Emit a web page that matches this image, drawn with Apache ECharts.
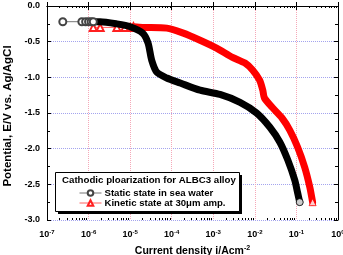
<!DOCTYPE html>
<html>
<head>
<meta charset="utf-8">
<script src="https://cdn.jsdelivr.net/npm/echarts@6/dist/echarts.min.js"></script>
<style>
  html, body { margin: 0; padding: 0; background: #fff; }
  #chart { width: 343px; height: 255px; }
</style>
</head>
<body>
<div id="chart"></div>
<script>
// tick labels
var xExps = ['-7', '-6', '-5', '-4', '-3', '-2', '-1', '0'];
var yTicks = ['0.0', '-0.5', '-1.0', '-1.5', '-2.0', '-2.5', '-3.0'];
// log minor tick multipliers inside each decade
var minorMult = [2, 3, 4, 5, 6, 7, 8, 9];

// static state: sparse open circles, dense band, end point
var staticMarks = [[2.4e-7, -0.22], [6.9e-7, -0.22], [8.5e-7, -0.22], [1.0e-6, -0.22], [1.15e-6, -0.22], [1.3e-6, -0.22]];
var staticBand = [
  [1.3e-6, -0.22], [1.9e-6, -0.22], [4.8e-6, -0.25], [1e-5, -0.29], [2e-5, -0.38],
  [2.7e-5, -0.52], [3.3e-5, -0.76], [4.4e-5, -0.93], [7.6e-5, -1.01], [1.6e-4, -1.08],
  [4.8e-4, -1.18], [1.45e-3, -1.24], [4.4e-3, -1.35], [1.1e-2, -1.50], [2.3e-2, -1.70],
  [4e-2, -1.91], [6.2e-2, -2.16], [9.1e-2, -2.44], [0.107, -2.62], [0.12, -2.75]
];
var staticEnd = [[0.12, -2.75]];

// kinetic state
var kineticMarks = [[1.3e-6, -0.30], [1.9e-6, -0.30], [4.8e-6, -0.30], [7.5e-6, -0.30], [1e-5, -0.30], [1.2e-5, -0.29]];
var kineticBand = [
  [1.2e-5, -0.29], [2e-5, -0.30], [7.6e-5, -0.31], [1.9e-4, -0.38], [4.8e-4, -0.48],
  [1.2e-3, -0.59], [2.9e-3, -0.72], [5.8e-3, -0.80], [8.9e-3, -0.90], [1.3e-2, -1.04],
  [1.55e-2, -1.18], [1.7e-2, -1.29], [2.6e-2, -1.42], [4.5e-2, -1.57], [6.9e-2, -1.74],
  [0.107, -1.98], [0.158, -2.26], [0.21, -2.54], [0.245, -2.75]
];
var kineticEnd = [[0.245, -2.75]];

var legendTitle = 'Cathodic ploarization for ALBC3 alloy';
var nameStatic = 'Static state in sea water';
var nameKinetic = 'Kinetic state at 30\u03bcm amp.';

var chart = echarts.init(document.getElementById('chart'));
var font = 'Liberation Sans, Arial, sans-serif';

var minorTicks = [];
for (var d = -7; d < 0; d++) {
  minorMult.forEach(function (m) { minorTicks.push(m * Math.pow(10, d)); });
}

function xLabel(v) {
  var e = Math.round(Math.log10(v));
  return '{b|10}{s|' + xExps[e + 7] + '}';
}

var baseX = {
  type: 'log', logBase: 10, min: 1e-7, max: 1,
  axisLine: { lineStyle: { color: '#000', width: 1 } },
  axisTick: { inside: true, length: 4, lineStyle: { color: '#000' } },
  splitLine: { show: false }
};
var minorX = {
  type: 'log', logBase: 10, min: 1e-7, max: 1,
  axisLine: { show: false },
  axisTick: { inside: true, length: 2, customValues: minorTicks, lineStyle: { color: '#000' } },
  axisLabel: { show: false },
  splitLine: { show: false }
};
var baseY = {
  type: 'value', min: -3, max: 0, interval: 0.5,
  axisLine: { show: true, lineStyle: { color: '#000', width: 1 } },
  axisTick: { show: true, inside: true, length: 4, lineStyle: { color: '#000' } },
  minorTick: { show: true, splitNumber: 2, length: 3, lineStyle: { color: '#000' } },
  splitLine: { show: false }
};

chart.setOption({
  animation: false,
  grid: { left: 47, right: 5, top: 6, bottom: 35, outerBoundsMode: 'none', containLabel: false },
  xAxis: [
    Object.assign({}, baseX, {
      position: 'bottom',
      splitLine: { show: true, lineStyle: { color: '#f5a8b8', type: [1, 1], width: 1 } },
      axisLabel: {
        margin: 9, formatter: xLabel,
        rich: {
          b: { fontFamily: font, fontWeight: 'bold', fontSize: 9, color: '#000' },
          s: { fontFamily: font, fontWeight: 'bold', fontSize: 6, color: '#000', padding: [0, 0, 6, 0] }
        }
      },
      name: '{n|Current density i/Acm}{s|-2}',
      nameLocation: 'middle', nameGap: 23,
      nameTextStyle: {
        rich: {
          n: { fontFamily: font, fontWeight: 'bold', fontSize: 10.5, color: '#000' },
          s: { fontFamily: font, fontWeight: 'bold', fontSize: 7, color: '#000', padding: [0, 0, 7, 0] }
        }
      }
    }),
    Object.assign({}, baseX, { position: 'top', axisLabel: { show: false } }),
    Object.assign({}, minorX, { position: 'bottom' }),
    Object.assign({}, minorX, { position: 'top' })
  ],
  yAxis: [
    Object.assign({}, baseY, {
      position: 'left',
      splitLine: { show: true, lineStyle: { color: '#a4a4ee', type: [1, 1], width: 1 } },
      axisLabel: {
        margin: 7, fontFamily: font, fontWeight: 'bold', fontSize: 9, color: '#000',
        formatter: function (v) { return yTicks[Math.round(-v / 0.5)]; }
      },
      name: 'Potential, E/V vs. Ag/AgCl',
      nameLocation: 'middle', nameGap: 21,
      nameTextStyle: { fontFamily: font, fontWeight: 'bold', fontSize: 11.5, color: '#000', padding: [0, 6, 0, 0] }
    }),
    Object.assign({}, baseY, { position: 'right', axisLabel: { show: false } })
  ],
  legend: {
    orient: 'vertical', left: 74, top: 183, z: 20,
    itemWidth: 22, itemHeight: 7, itemGap: 0,
    selectedMode: false,
    data: [
      { name: nameStatic, itemStyle: { color: '#444', borderColor: '#444', borderWidth: 1 }, lineStyle: { color: '#777', width: 1 } },
      { name: nameKinetic, itemStyle: { color: '#ff2020', borderColor: '#ff2020', borderWidth: 1 }, lineStyle: { color: '#ff6060', width: 1 } }
    ],
    textStyle: { fontFamily: font, fontWeight: 'bold', fontSize: 9.6, color: '#000', padding: [0, 0, 0, -2] }
  },
  graphic: [
    { type: 'rect', z: 10, shape: { x: 58, y: 175, width: 184, height: 39 }, style: { fill: '#000' } },
    { type: 'rect', z: 11, shape: { x: 55.5, y: 172.5, width: 184, height: 39 }, style: { fill: '#fff', stroke: '#000', lineWidth: 1 } },
    { type: 'text', z: 20, left: 62, top: 175, style: { text: legendTitle, font: 'bold 9.7px ' + font, fill: '#000' } }
  ],
  series: [
    {
      type: 'line', data: kineticBand, smooth: 0.25, symbol: 'none', z: 3,
      lineStyle: { color: '#ff0000', width: 7, cap: 'round', join: 'round' }
    },
    {
      name: nameKinetic, type: 'line', data: kineticMarks, z: 3,
      symbol: 'emptyTriangle', symbolSize: 7,
      itemStyle: { color: '#ff2020', borderColor: '#ff2020', borderWidth: 1 },
      lineStyle: { color: '#ff6060', width: 1 }
    },
    {
      type: 'scatter', data: kineticEnd, symbol: 'triangle', symbolSize: 7, z: 6,
      itemStyle: { color: '#fff', borderColor: '#ff0000', borderWidth: 1 }
    },
    {
      type: 'line', data: staticBand, smooth: 0.25, symbol: 'none', z: 4,
      lineStyle: { color: '#000', width: 7, cap: 'round', join: 'round' }
    },
    {
      name: nameStatic, type: 'line', data: staticMarks, z: 4,
      symbol: 'emptyCircle', symbolSize: 7,
      itemStyle: { color: '#444', borderColor: '#444', borderWidth: 1 },
      lineStyle: { color: '#777', width: 1 }
    },
    {
      type: 'scatter', data: staticEnd, symbol: 'circle', symbolSize: 7, z: 6,
      itemStyle: { color: '#fff', borderColor: '#000', borderWidth: 1 }
    }
  ]
});
</script>
</body>
</html>
